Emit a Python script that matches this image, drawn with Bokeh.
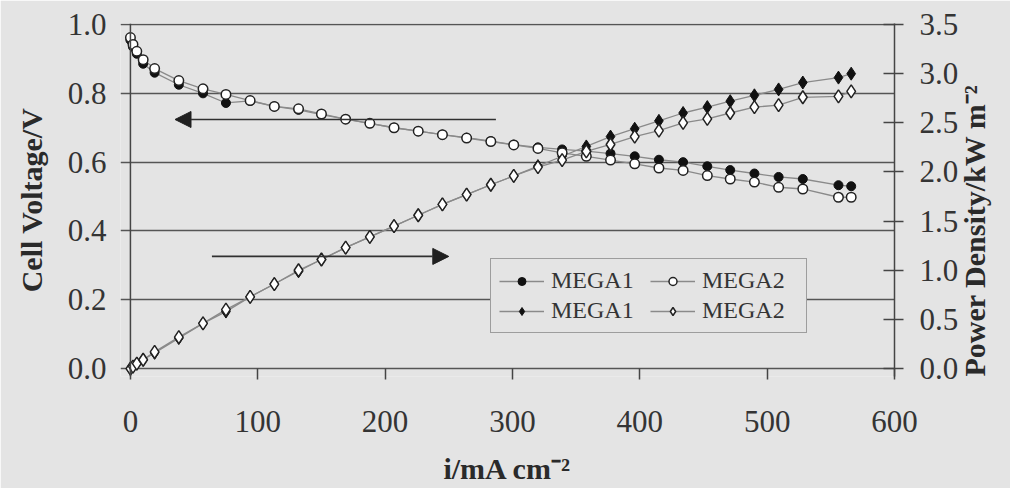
import math
from bokeh.plotting import figure
from bokeh.models import (Range1d, LinearAxis, FixedTicker, NumeralTickFormatter,
                          Legend, LegendItem, Arrow, NormalHead, Grid, Span)
from bokeh.embed import file_html
from bokeh.resources import INLINE

# ---------------- data ----------------
current = [0, 2, 5, 10, 19, 38, 57, 75, 94, 113, 132, 150, 169, 188, 207, 226, 245,
           264, 283, 301, 320, 339, 358, 377, 396, 415, 434, 453, 471, 490, 509, 528,
           556, 566]
mega1_voltage = [0.955, 0.935, 0.915, 0.886, 0.860, 0.825, 0.800, 0.772, 0.778, 0.762,
                 0.752, 0.738, 0.725, 0.713, 0.700, 0.690, 0.680, 0.671, 0.661, 0.651,
                 0.643, 0.637, 0.632, 0.625, 0.617, 0.607, 0.600, 0.588, 0.577, 0.567,
                 0.557, 0.551, 0.533, 0.530]
mega2_voltage = [0.962, 0.942, 0.922, 0.898, 0.872, 0.837, 0.813, 0.797, 0.779, 0.762,
                 0.755, 0.740, 0.725, 0.713, 0.700, 0.690, 0.680, 0.670, 0.660, 0.650,
                 0.640, 0.627, 0.617, 0.606, 0.595, 0.583, 0.576, 0.561, 0.551, 0.542,
                 0.527, 0.522, 0.498, 0.498]
mega1_power = [0.00, 0.02, 0.05, 0.09, 0.16, 0.31, 0.46, 0.58, 0.73, 0.86, 0.99, 1.11,
               1.23, 1.34, 1.45, 1.56, 1.67, 1.77, 1.87, 1.96, 2.06, 2.16, 2.26, 2.36,
               2.44, 2.52, 2.60, 2.66, 2.72, 2.78, 2.84, 2.91, 2.96, 3.00]
mega2_power = [0.00, 0.02, 0.05, 0.09, 0.17, 0.32, 0.46, 0.60, 0.73, 0.86, 1.00, 1.11,
               1.23, 1.34, 1.45, 1.56, 1.67, 1.77, 1.87, 1.96, 2.05, 2.12, 2.21, 2.28,
               2.36, 2.42, 2.50, 2.54, 2.60, 2.66, 2.68, 2.76, 2.77, 2.82]
series_labels = ["MEGA1", "MEGA2"]
x_ticks = [0, 100, 200, 300, 400, 500, 600]
voltage_ticks = [0.0, 0.2, 0.4, 0.6, 0.8, 1.0]
power_ticks = [0.0, 0.5, 1.0, 1.5, 2.0, 2.5, 3.0, 3.5]
x_label = "i/mA cm\u207b\u00b2"
left_label = "Cell Voltage/V"
right_label = "Power Density/kW m\u207b\u00b2"
# arrows: (x_start, x_end, y) in data units of the voltage axis
arrow_to_voltage = (287, 35, 0.724)
arrow_to_power = (64, 250, 0.326)

# ---------------- style ----------------
BG = "#e4e4e4"
AX = "#454545"
TXT = "#343434"
SERIF = "Liberation Serif"
LINE = "#8a8a8a"

pad_lo = 0.023
p = figure(width=1010, height=488, output_backend="svg", toolbar_location=None,
           x_range=Range1d(-7.8, 600), y_range=Range1d(-pad_lo, 1.003),
           x_axis_type=None, y_axis_type=None,
           min_border_left=120, min_border_right=116, min_border_top=23,
           min_border_bottom=112,
           background_fill_color=BG, border_fill_color=BG, outline_line_color=None)
p.extra_y_ranges = {"power": Range1d(-pad_lo * 3.5, 1.003 * 3.5)}


def style_axis(ax, tick_out, tick_in, standoff):
    ax.axis_line_color = AX
    ax.axis_line_width = 1.5
    ax.major_tick_line_color = AX
    ax.major_tick_line_width = 1.5
    ax.major_tick_out = tick_out
    ax.major_tick_in = tick_in
    ax.minor_tick_line_color = None
    ax.major_label_text_font = SERIF
    ax.major_label_text_font_size = "31px"
    ax.major_label_text_color = TXT
    ax.major_label_standoff = standoff
    ax.axis_label_text_font = SERIF
    ax.axis_label_text_font_style = "bold"
    ax.axis_label_text_font_size = "30px"
    ax.axis_label_text_color = "#2a2a2a"


xaxis = LinearAxis(ticker=FixedTicker(ticks=x_ticks), axis_label=x_label)
style_axis(xaxis, 3, 8, 31)
xaxis.axis_line_color = None
xaxis.axis_label_standoff = 17
p.add_layout(xaxis, "below")

yaxis = LinearAxis(ticker=FixedTicker(ticks=voltage_ticks), axis_label=left_label,
                   formatter=NumeralTickFormatter(format="0.0"))
style_axis(yaxis, 0, 0, 14)
yaxis.axis_line_color = None
yaxis.major_tick_line_color = None
yaxis.axis_label_standoff = 17
p.add_layout(yaxis, "left")

raxis = LinearAxis(y_range_name="power", ticker=FixedTicker(ticks=power_ticks),
                   formatter=NumeralTickFormatter(format="0.0"), axis_label=right_label,
                   axis_label_orientation=math.pi / 2, axis_label_align="start")
style_axis(raxis, 9, 11, 16)
raxis.axis_label_standoff = 13
p.add_layout(raxis, "right")

p.add_layout(Grid(dimension=1, ticker=FixedTicker(ticks=voltage_ticks),
                  grid_line_color="#555555", grid_line_width=1.5))
p.add_layout(Span(location=0, dimension="height", line_color=AX, line_width=1.5))

# arrows
for xs, xe, yy in [arrow_to_voltage, arrow_to_power]:
    p.add_layout(Arrow(x_start=xs, y_start=yy, x_end=xe, y_end=yy,
                       line_color="#303030", line_width=1.6,
                       end=NormalHead(size=16, fill_color="#202020",
                                      line_color="#202020", line_width=1)))

# data
l1v = p.line(current, mega1_voltage, line_color=LINE, line_width=1.3)
l2v = p.line(current, mega2_voltage, line_color=LINE, line_width=1.3)
l1p = p.line(current, mega1_power, line_color=LINE, line_width=1.3, y_range_name="power")
l2p = p.line(current, mega2_power, line_color=LINE, line_width=1.3, y_range_name="power")

s1v = p.scatter(current, mega1_voltage, marker="circle", size=9,
                fill_color="#111111", line_color="#111111", line_width=1)
s1p = p.scatter(current, mega1_power, marker="diamond", size=13,
                fill_color="#111111", line_color="#111111", line_width=1,
                y_range_name="power")
s2v = p.scatter(current, mega2_voltage, marker="circle", size=9.5,
                fill_color="white", line_color="#222222", line_width=1.5)
s2p = p.scatter(current, mega2_power, marker="diamond", size=13,
                fill_color="white", line_color="#222222", line_width=1.5,
                y_range_name="power")

legend = Legend(items=[LegendItem(label=series_labels[0], renderers=[l1v, s1v]),
                       LegendItem(label=series_labels[0], renderers=[l1p, s1p]),
                       LegendItem(label=series_labels[1], renderers=[l2v, s2v]),
                       LegendItem(label=series_labels[1], renderers=[l2p, s2p])],
                location=(370, 43), ncols=2,
                label_text_font=SERIF, label_text_font_size="24px",
                label_text_color=TXT, glyph_width=45, glyph_height=20,
                label_standoff=7, label_width=96, spacing=3, padding=8, margin=0,
                border_line_color="#555555", border_line_width=1.5,
                background_fill_color=BG, background_fill_alpha=1.0)
p.add_layout(legend, "center")

open("out.html", "w").write(file_html(p, INLINE))
